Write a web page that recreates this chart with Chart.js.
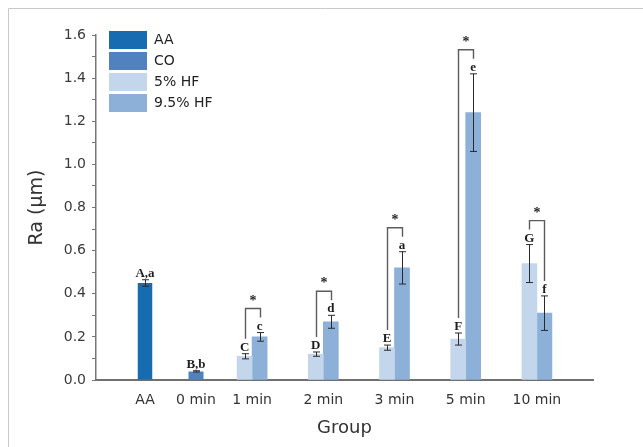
<!DOCTYPE html>
<html>
<head>
<meta charset="utf-8">
<script src="https://cdn.jsdelivr.net/npm/chart.js@4.4.1/dist/chart.umd.min.js"></script>
<style>
  html, body { margin: 0; padding: 0; background: #fff; overflow: hidden; }
  #c { display: block; }
</style>
</head>
<body>
<canvas id="c" width="643" height="447"></canvas>
<script>
// Group labels: the two single-bar groups and the five paired HF groups
const singleLabels = ['AA', '0 min'];
const pairLabels = ['1 min', '2 min', '3 min', '5 min', '10 min'];

// Surface roughness Ra (µm), mean and SD
const aaValues = [0.45, null];
const aaErrors = [0.015, null];
const coValues = [null, 0.04];
const coErrors = [null, 0.003];
const hf5Values = [0.11, 0.12, 0.15, 0.19, 0.54];
const hf5Errors = [0.012, 0.01, 0.012, 0.028, 0.088];
const hf95Values = [0.20, 0.27, 0.52, 1.24, 0.31];
const hf95Errors = [0.02, 0.03, 0.075, 0.18, 0.08];

// Significance letters above each bar
const aaLetters = ['A,a', null];
const coLetters = [null, 'B,b'];
const hf5Letters = ['C', 'D', 'E', 'F', 'G'];
const hf95Letters = ['c', 'd', 'a', 'e', 'f'];
// 5% vs 9.5% HF difference marked with an asterisk
const pairSignificant = [true, true, true, true, true];

// Y axis range
const yMin = 0;
const yMax = 1.6;
const yMinorStep = 0.1;

// Horizontal bands (px from the plot's left edge) for the two group blocks
const singleBand = [23.5, 125.5];
const pairBand = [120.5, 476.5];
const legendInset = { x: 10, y: -7 };

Chart.defaults.font.family = "'DejaVu Sans', sans-serif";
Chart.defaults.color = '#333';

const serif = "'Liberation Serif', 'DejaVu Serif', serif";

const overlay = {
  id: 'overlay',
  beforeDraw(chart) {
    // thin panel frame along the top and left edges
    const ctx = chart.ctx;
    ctx.save();
    ctx.strokeStyle = '#c9c9c9';
    ctx.lineWidth = 1;
    ctx.beginPath();
    ctx.moveTo(8.5, chart.height);
    ctx.lineTo(8.5, 8.5);
    ctx.lineTo(chart.width, 8.5);
    ctx.stroke();
    ctx.restore();
  },
  afterLayout(chart) {
    const ca = chart.chartArea;
    const x = chart.scales.x;
    const place = (s, band) => {
      s.left = ca.left + band[0];
      s.right = ca.left + band[1];
      s.width = s.right - s.left;
      s.top = x.top;
      s.bottom = x.bottom;
      s.height = s.bottom - s.top;
      s.configure();
      s._labelItems = null;
    };
    place(chart.scales.xs, singleBand);
    place(chart.scales.xp, pairBand);

    const lg = chart.legend;
    if (lg) {
      const w = lg.width, h = lg.height;
      lg.left = ca.left + legendInset.x;
      lg.top = ca.top + legendInset.y;
      lg.right = lg.left + w;
      lg.bottom = lg.top + h;
    }
  },
  afterDatasetsDraw(chart) {
    const ctx = chart.ctx;
    const y = chart.scales.y;
    ctx.save();
    ctx.textAlign = 'center';
    ctx.textBaseline = 'alphabetic';

    // error bars and letters
    const tops = chart.data.datasets.map((ds, di) => {
      const meta = chart.getDatasetMeta(di);
      return meta.data.map((bar, i) => {
        const v = ds.data[i];
        if (v == null) return null;
        const e = ds.errors[i] || 0;
        const yHi = y.getPixelForValue(v + e);
        const yLo = y.getPixelForValue(v - e);
        const bx = Math.round(bar.x) + 0.5;
        ctx.strokeStyle = '#2a2a2a';
        ctx.lineWidth = 1;
        ctx.beginPath();
        ctx.moveTo(bx, yHi); ctx.lineTo(bx, yLo);
        ctx.moveTo(bx - 3.5, yHi); ctx.lineTo(bx + 3.5, yHi);
        ctx.moveTo(bx - 3.5, yLo); ctx.lineTo(bx + 3.5, yLo);
        ctx.stroke();
        const letter = ds.letters[i];
        if (letter) {
          ctx.fillStyle = '#1e1e1e';
          ctx.font = 'bold 13px ' + serif;
          ctx.fillText(letter, bar.x, yHi - 3);
        }
        return { x: bx, top: yHi };
      });
    });

    // significance brackets between paired bars
    const lo = tops[2], hi = tops[3];
    pairSignificant.forEach((sig, i) => {
      if (!sig || !lo[i] || !hi[i]) return;
      const leftEnd = lo[i].top - 15;
      const rightEnd = hi[i].top - 15;
      const top = Math.min(leftEnd, rightEnd) - 9;
      ctx.strokeStyle = '#5c5c5c';
      ctx.lineWidth = 1.4;
      ctx.beginPath();
      ctx.moveTo(lo[i].x, leftEnd);
      ctx.lineTo(lo[i].x, top);
      ctx.lineTo(hi[i].x, top);
      ctx.lineTo(hi[i].x, rightEnd);
      ctx.stroke();
      ctx.fillStyle = '#1e1e1e';
      ctx.font = 'bold 14px ' + serif;
      ctx.fillText('*', (lo[i].x + hi[i].x) / 2, top - 4);
    });
    ctx.restore();
  }
};

new Chart(document.getElementById('c'), {
  type: 'bar',
  data: {
    datasets: [
      { label: 'AA', data: aaValues, errors: aaErrors, letters: aaLetters, xAxisID: 'xs',
        grouped: false, maxBarThickness: 14.5, backgroundColor: '#166bb1' },
      { label: 'CO', data: coValues, errors: coErrors, letters: coLetters, xAxisID: 'xs',
        grouped: false, maxBarThickness: 15, backgroundColor: '#4f82bf' },
      { label: '5% HF', data: hf5Values, errors: hf5Errors, letters: hf5Letters, xAxisID: 'xp',
        barThickness: 15, backgroundColor: '#c4d6eb' },
      { label: '9.5% HF', data: hf95Values, errors: hf95Errors, letters: hf95Letters, xAxisID: 'xp',
        barThickness: 15, backgroundColor: '#8cb0d8' }
    ]
  },
  options: {
    responsive: false,
    animation: false,
    devicePixelRatio: 1,
    layout: { padding: { left: 0, right: 50, top: 35, bottom: 0 } },
    datasets: { bar: { borderWidth: 0 } },
    plugins: {
      legend: {
        position: 'chartArea',
        align: 'start',
        labels: {
          boxWidth: 38,
          boxHeight: 18,
          padding: 3,
          color: '#222',
          font: { size: 14 }
        }
      },
      tooltip: { enabled: false }
    },
    scales: {
      y: {
        min: yMin,
        max: yMax,
        ticks: {
          stepSize: yMinorStep,
          padding: 6,
          color: '#3a3a3a',
          font: { size: 14 },
          callback: (v) => (Math.round(v * 10) % 2 === 0 ? Number(v).toFixed(1) : '')
        },
        grid: { drawOnChartArea: false, tickLength: 4, color: '#777', lineWidth: 1 },
        border: { color: '#777', width: 1.5 },
        title: {
          display: true,
          text: 'Ra (µm)',
          color: '#333',
          font: { size: 19 },
          padding: { top: 26, bottom: 0 }
        },
        afterFit: (s) => { s.width = 96; }
      },
      x: {
        type: 'category',
        labels: [...singleLabels, ...pairLabels],
        position: 'bottom',
        grid: { display: false, drawTicks: false },
        border: { color: '#707070', width: 2 },
        ticks: { display: false },
        title: {
          display: true,
          text: 'Group',
          color: '#333',
          font: { size: 18 },
          padding: { top: 0, bottom: 8 }
        },
        afterFit: (s) => { s.height = 67; }
      },
      xs: {
        type: 'category',
        labels: singleLabels,
        position: 'bottom',
        offset: true,
        grid: { display: false, drawTicks: false },
        border: { display: false },
        ticks: { autoSkip: false, maxRotation: 0, padding: 12, color: '#333', font: { size: 14 } },
        afterFit: (s) => { s.height = 0; }
      },
      xp: {
        type: 'category',
        labels: pairLabels,
        position: 'bottom',
        offset: true,
        grid: { display: false, drawTicks: false },
        border: { display: false },
        ticks: { autoSkip: false, maxRotation: 0, padding: 12, color: '#333', font: { size: 14 } },
        afterFit: (s) => { s.height = 0; }
      }
    }
  },
  plugins: [overlay]
});
</script>
</body>
</html>
